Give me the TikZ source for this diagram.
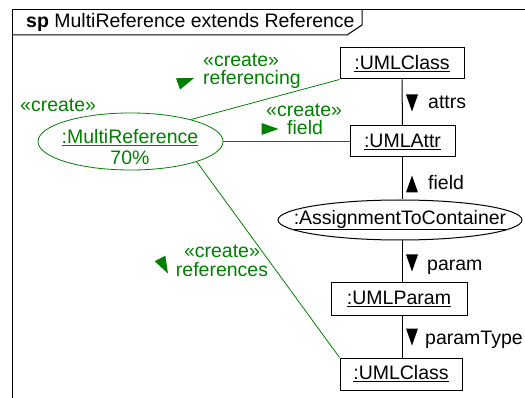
\documentclass[tikz,border=0pt]{standalone}
\usepackage{fontspec}
\setmainfont{Liberation Sans}
\usetikzlibrary{shapes.geometric}
\definecolor{cgreen}{RGB}{0,128,0}
\tikzset{
  tri/.pic={\fill (8.5,0) -- (-8.5,6) -- (-8.5,-6) -- cycle;},
  every node/.style={font=\fontsize{19.5}{22}\selectfont, inner sep=0pt},
  obj/.style={draw, line width=1pt, minimum width=#1, minimum height=31pt},
  oval/.style={draw, ellipse, line width=1pt},
  glabel/.style={text=cgreen},
  glink/.style={draw=cgreen, line width=0.8pt},
  blink/.style={draw=black, line width=1pt}
}
\begin{document}
\begin{tikzpicture}[x=1pt,y=-1pt]
\useasboundingbox (0,0) rectangle (525,398);
% frame
\draw[line width=1pt] (12,398) -- (12,10) -- (525,10);
\draw[line width=1pt] (12,35) -- (347,35) -- (362,25) -- (362,10);
\node[anchor=base west] (title) at (26,28) {\textbf{sp} MultiReference extends Reference};

% objects
\node[obj=124pt] (uc1) at (402,63.5) {\underline{:UMLClass}};
\node[obj=105pt] (ua) at (402.5,141.5) {\underline{:UMLAttr}};
\node[oval, minimum width=244pt, minimum height=40pt] (atc) at (400,220) {};
\node (atct) at (atc.center) {\underline{:AssignmentToContainer}};
\node[obj=136pt, minimum height=32pt] (up) at (399,299) {\underline{:UMLParam}};
\node[obj=122pt, minimum height=32pt] (uc2) at (401,374) {\underline{:UMLClass}};

\node[oval, draw=cgreen, line width=0.8pt, minimum width=185pt, minimum height=57pt] (mr) at (130.5,141.5) {};
\node[glabel, anchor=base] (mrn) at (130,143.5) {\underline{:MultiReference}};
\node[glabel, anchor=base] (mrp) at (130,165) {70\%};
\node[glabel, anchor=base west] (mrc) at (20,112) {«create»};

% black links
\draw[blink] (uc1.south) -- (ua.north);
\draw[blink] (ua.south) -- (ua.south |- atc.north);
\draw[blink] (atc.south -| ua.south) -- (ua.south |- up.north);
\draw[blink] (up.south -| ua.south) -- (ua.south |- uc2.north);

\pic[black, rotate=-90] at (412,103) {tri};
\node[anchor=base west] (lattrs) at (428,109) {attrs};
\pic[black, rotate=90] at (412,184) {tri};
\node[anchor=base west] (lfield) at (428,190) {field};
\pic[black, rotate=-90] at (412,263) {tri};
\node[anchor=base west] (lparam) at (427,270) {param};
\pic[black, rotate=-90] at (412,337) {tri};
\node[anchor=base west] (lptype) at (425,344) {paramType};

% green links
\draw[glink] (mr.20) -- (uc1.south west);
\draw[glink] (mr) -- (ua);
\draw[glink] (mr.-17) -- (uc2.north west);

\node[glabel, anchor=base west] (c1) at (203,67) {«create»};
\node[glabel, anchor=base west] (l1) at (203,84.5) {referencing};
\pic[cgreen, rotate=20] at (186,81) {tri};

\node[glabel, anchor=base west] (c2) at (266,117) {«create»};
\node[glabel, anchor=base west] (l2) at (287,135) {field};
\pic[cgreen] at (270,129) {tri};

\node[glabel, anchor=base] (c3) at (222,258) {«create»};
\node[glabel, anchor=base] (l3) at (222,276.5) {references};
\pic[cgreen, rotate=-62] at (164,266) {tri};
\end{tikzpicture}
\end{document}
